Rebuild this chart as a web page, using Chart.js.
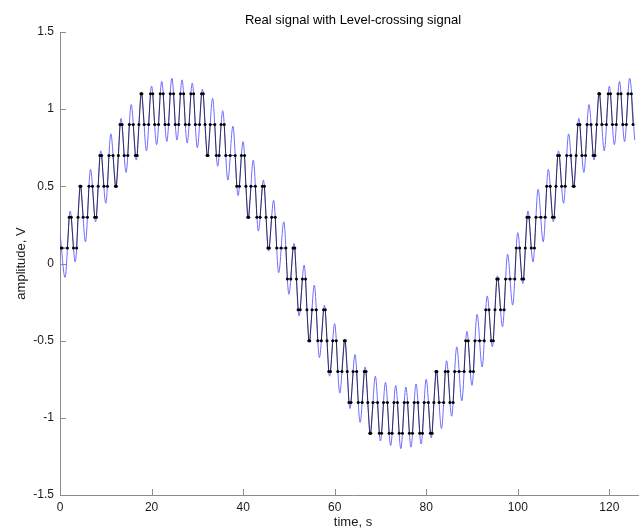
<!DOCTYPE html>
<html>
<head>
<meta charset="utf-8">
<title>Real signal with Level-crossing signal</title>
<script src="https://cdn.jsdelivr.net/npm/chart.js@4.4.1/dist/chart.umd.min.js"></script>
<style>
  html, body { margin: 0; padding: 0; background: #fff; overflow: hidden; }
  #wrap { width: 650px; height: 532px; }
</style>
</head>
<body>
<div id="wrap"><canvas id="sigChart" width="650" height="532"></canvas></div>
<script>
// real signal: times of the peaks/troughs of the fast ripple and their values
var realTime = [
  0, 1.11, 2.22, 3.33, 4.44, 5.56, 6.67, 7.78, 8.89, 10.0,
  11.11, 12.22, 13.33, 14.44, 15.55, 16.67, 17.78, 18.89, 20.0, 21.11,
  22.22, 23.33, 24.44, 25.55, 26.66, 27.78, 28.89, 30.0, 31.11, 32.22,
  33.33, 34.44, 35.55, 36.66, 37.77, 38.89, 40.0, 41.11, 42.22, 43.33,
  44.44, 45.55, 46.66, 47.77, 48.88, 50.0, 51.11, 52.22, 53.33, 54.44,
  55.55, 56.66, 57.77, 58.88, 59.99, 61.11, 62.22, 63.33, 64.44, 65.55,
  66.66, 67.77, 68.88, 69.99, 71.1, 72.22, 73.33, 74.44, 75.55, 76.66,
  77.77, 78.88, 79.99, 81.1, 82.21, 83.33, 84.44, 85.55, 86.66, 87.77,
  88.88, 89.99, 91.1, 92.21, 93.32, 94.44, 95.55, 96.66, 97.77, 98.88,
  99.99, 101.1, 102.21, 103.32, 104.43, 105.55, 106.66, 107.77, 108.88, 109.99,
  111.1, 112.21, 113.32, 114.43, 115.54, 116.66, 117.77, 118.88, 119.99, 121.1,
  122.21, 123.32, 124.43, 125.54
];
var realAmp = [
  0.20, -0.09, 0.34, 0.01, 0.51, 0.14, 0.61, 0.27, 0.73, 0.39,
  0.84, 0.49, 0.94, 0.59, 1.03, 0.67, 1.11, 0.73, 1.15, 0.77,
  1.18, 0.79, 1.20, 0.80, 1.19, 0.78, 1.17, 0.75, 1.13, 0.69,
  1.07, 0.63, 0.99, 0.54, 0.89, 0.44, 0.79, 0.29, 0.67, 0.21,
  0.54, 0.08, 0.41, -0.06, 0.27, -0.20, 0.13, -0.34, -0.01, -0.51,
  -0.14, -0.61, -0.27, -0.73, -0.39, -0.84, -0.49, -0.94, -0.59, -1.03,
  -0.67, -1.11, -0.73, -1.15, -0.77, -1.18, -0.79, -1.20, -0.80, -1.19,
  -0.78, -1.17, -0.75, -1.13, -0.69, -1.07, -0.63, -0.99, -0.54, -0.89,
  -0.44, -0.79, -0.33, -0.67, -0.21, -0.54, -0.08, -0.41, 0.06, -0.27,
  0.20, -0.13, 0.34, 0.01, 0.48, 0.14, 0.61, 0.27, 0.73, 0.39,
  0.84, 0.49, 0.94, 0.59, 1.03, 0.67, 1.11, 0.73, 1.15, 0.77,
  1.18, 0.79, 1.20, 0.80
];

// level-crossing samples: crossing time and the level that was crossed
var lcTime = [
  0, 0.44, 1.62, 2.01, 2.47, 2.94, 3.64, 3.94, 4.35, 4.56,
  5.05, 6.00, 6.32, 7.09, 7.57, 7.96, 8.34, 8.71, 9.10, 9.58,
  10.37, 10.69, 11.59, 12.10, 12.32, 12.75, 13.11, 13.57, 14.02, 14.81,
  15.14, 16.01, 16.46, 16.86, 17.24, 17.68, 17.89, 18.37, 19.37, 19.76,
  20.26, 20.67, 21.53, 21.89, 22.55, 22.94, 23.72, 24.08, 24.81, 25.18,
  25.93, 26.31, 27.00, 27.37, 28.20, 28.58, 29.19, 29.55, 30.48, 30.91,
  31.30, 31.68, 32.12, 32.33, 32.81, 33.81, 34.15, 34.76, 35.18, 35.88,
  36.21, 37.18, 38.27, 38.61, 39.19, 39.62, 40.31, 40.61, 41.01, 41.22,
  41.70, 42.68, 43.00, 43.72, 44.20, 44.65, 45.01, 45.40, 45.73, 46.23,
  47.02, 47.33, 48.31, 49.34, 49.66, 50.41, 50.89, 51.29, 51.65, 52.01,
  52.47, 52.94, 53.64, 53.94, 54.34, 54.56, 55.05, 55.99, 56.31, 57.08,
  57.56, 57.95, 58.33, 58.70, 59.09, 59.57, 60.36, 60.68, 61.59, 62.10,
  62.32, 62.75, 63.11, 63.57, 64.02, 64.81, 65.14, 66.01, 66.46, 66.85,
  67.23, 67.67, 67.88, 68.36, 69.36, 69.75, 70.25, 70.66, 71.52, 71.88,
  72.55, 72.94, 73.72, 74.08, 74.81, 75.18, 75.93, 76.31, 77.00, 77.37,
  78.19, 78.57, 79.18, 79.54, 80.47, 80.90, 81.29, 81.67, 82.11, 82.32,
  82.80, 83.81, 84.15, 84.76, 85.18, 85.88, 86.21, 87.18, 88.27, 88.61,
  89.18, 89.61, 90.32, 90.63, 91.66, 92.67, 92.99, 93.71, 94.19, 94.65,
  95.01, 95.40, 95.73, 96.23, 97.02, 97.33, 98.31, 99.34, 99.66, 100.40,
  100.88, 101.28, 101.64, 102.00, 102.46, 102.93, 103.64, 103.96, 105.01, 105.99,
  106.31, 107.08, 107.56, 107.95, 108.33, 108.70, 109.09, 109.57, 110.36, 110.68,
  111.58, 112.09, 112.31, 112.74, 113.10, 113.56, 114.01, 114.80, 115.13, 116.00,
  116.45, 116.85, 117.23, 117.67, 117.88, 118.36, 119.36, 119.75, 120.25, 120.66,
  121.52, 121.88, 122.54, 122.93, 123.71, 124.07, 124.80, 125.17
];
var lcLevel = [
  0.1, 0.1, 0.1, 0.3, 0.3, 0.1, 0.1, 0.3, 0.5, 0.5,
  0.3, 0.3, 0.5, 0.5, 0.3, 0.3, 0.5, 0.7, 0.7, 0.5,
  0.5, 0.7, 0.7, 0.5, 0.5, 0.7, 0.9, 0.9, 0.7, 0.7,
  0.9, 0.9, 0.7, 0.7, 0.9, 1.1, 1.1, 0.9, 0.9, 1.1,
  1.1, 0.9, 0.9, 1.1, 1.1, 0.9, 0.9, 1.1, 1.1, 0.9,
  0.9, 1.1, 1.1, 0.9, 0.9, 1.1, 1.1, 0.9, 0.9, 1.1,
  1.1, 0.9, 0.7, 0.7, 0.9, 0.9, 0.7, 0.7, 0.9, 0.9,
  0.7, 0.7, 0.7, 0.5, 0.5, 0.7, 0.7, 0.5, 0.3, 0.3,
  0.5, 0.5, 0.3, 0.3, 0.5, 0.5, 0.3, 0.1, 0.1, 0.3,
  0.3, 0.1, 0.1, 0.1, -0.1, -0.1, 0.1, 0.1, -0.1, -0.3,
  -0.3, -0.1, -0.1, -0.3, -0.5, -0.5, -0.3, -0.3, -0.5, -0.5,
  -0.3, -0.3, -0.5, -0.7, -0.7, -0.5, -0.5, -0.7, -0.7, -0.5,
  -0.5, -0.7, -0.9, -0.9, -0.7, -0.7, -0.9, -0.9, -0.7, -0.7,
  -0.9, -1.1, -1.1, -0.9, -0.9, -1.1, -1.1, -0.9, -0.9, -1.1,
  -1.1, -0.9, -0.9, -1.1, -1.1, -0.9, -0.9, -1.1, -1.1, -0.9,
  -0.9, -1.1, -1.1, -0.9, -0.9, -1.1, -1.1, -0.9, -0.7, -0.7,
  -0.9, -0.9, -0.7, -0.7, -0.9, -0.9, -0.7, -0.7, -0.7, -0.5,
  -0.5, -0.7, -0.7, -0.5, -0.5, -0.5, -0.3, -0.3, -0.5, -0.5,
  -0.3, -0.1, -0.1, -0.3, -0.3, -0.1, -0.1, -0.1, 0.1, 0.1,
  -0.1, -0.1, 0.1, 0.3, 0.3, 0.1, 0.1, 0.3, 0.3, 0.3,
  0.5, 0.5, 0.3, 0.3, 0.5, 0.7, 0.7, 0.5, 0.5, 0.7,
  0.7, 0.5, 0.5, 0.7, 0.9, 0.9, 0.7, 0.7, 0.9, 0.9,
  0.7, 0.7, 0.9, 1.1, 1.1, 0.9, 0.9, 1.1, 1.1, 0.9,
  0.9, 1.1, 1.1, 0.9, 0.9, 1.1, 1.1, 0.9
];

var xTickVals = [0, 20, 40, 60, 80, 100, 120];
var yTickVals = [-1.5, -1, -0.5, 0, 0.5, 1, 1.5];

var chartTitle = 'Real signal with Level-crossing signal';
var fontFamily = '"Liberation Sans", Arial, Helvetica, sans-serif';
var axisGray = '#8c8c8c';

function pairs(xs, ys) {
  var out = [];
  for (var i = 0; i < Math.min(xs.length, ys.length); i++) out.push({ x: xs[i], y: ys[i] });
  return out;
}

// inward tick marks and a title centred on the axes box
var matlabAxes = {
  id: 'matlabAxes',
  afterDraw: function (chart) {
    var c = chart.ctx, a = chart.chartArea, xs = chart.scales.x, ys = chart.scales.y;
    c.save();
    c.strokeStyle = axisGray;
    c.lineWidth = 1;
    c.beginPath();
    xTickVals.forEach(function (v) {
      var px = Math.round(xs.getPixelForValue(v)) + 0.5;
      c.moveTo(px, a.bottom);
      c.lineTo(px, a.bottom - 6);
    });
    yTickVals.forEach(function (v) {
      var py = Math.round(ys.getPixelForValue(v)) + 0.5;
      c.moveTo(a.left, py);
      c.lineTo(a.left + 6, py);
    });
    c.stroke();
    c.fillStyle = '#000';
    c.font = '13px ' + fontFamily;
    c.textAlign = 'center';
    c.textBaseline = 'middle';
    c.fillText(chartTitle, (a.left + a.right) / 2, 20);
    c.restore();
  }
};

var ctx = document.getElementById('sigChart').getContext('2d');
var sigChart = new Chart(ctx, {
  type: 'line',
  data: {
    datasets: [{
      label: 'Level-crossing signal',
      data: pairs(lcTime, lcLevel),
      borderColor: 'rgba(0, 0, 0, 0.62)',
      borderWidth: 1,
      pointRadius: 1.5,
      pointBackgroundColor: '#000',
      pointBorderWidth: 0,
      tension: 0
    }, {
      label: 'Real signal',
      data: pairs(realTime, realAmp),
      borderColor: '#6e6eff',
      borderWidth: 1,
      pointRadius: 0,
      cubicInterpolationMode: 'monotone'
    }]
  },
  options: {
    responsive: false,
    devicePixelRatio: 1,
    animation: false,
    events: [],
    layout: { padding: { top: 32, left: 0, right: 0, bottom: 0 } },
    plugins: {
      legend: { display: false },
      tooltip: { enabled: false },
      title: { display: false }
    },
    scales: {
      x: {
        type: 'linear',
        min: 0,
        max: 128,
        afterFit: function (s) { s.height = 37; },
        afterBuildTicks: function (s) { s.ticks = xTickVals.map(function (v) { return { value: v }; }); },
        grid: { display: false, drawTicks: false },
        border: { display: true, color: axisGray, width: 1 },
        ticks: {
          padding: 5,
          maxRotation: 0,
          color: '#1a1a1a',
          font: { family: fontFamily, size: 12 },
          callback: function (v) { return String(v); }
        },
        title: {
          display: true,
          text: 'time, s',
          color: '#1a1a1a',
          font: { family: fontFamily, size: 13 },
          padding: { top: 0, bottom: 2 }
        }
      },
      y: {
        type: 'linear',
        min: -1.5,
        max: 1.5,
        afterFit: function (s) { s.width = 60; },
        afterBuildTicks: function (s) { s.ticks = yTickVals.map(function (v) { return { value: v }; }); },
        grid: { display: false, drawTicks: false },
        border: { display: true, color: axisGray, width: 1 },
        ticks: {
          padding: 6,
          color: '#1a1a1a',
          font: { family: fontFamily, size: 12 },
          callback: function (v) { return String(v); }
        },
        title: {
          display: true,
          text: 'amplitude, V',
          color: '#1a1a1a',
          font: { family: fontFamily, size: 13 },
          padding: { top: 14, bottom: 0 }
        }
      }
    }
  },
  plugins: [matlabAxes]
});
</script>
</body>
</html>
